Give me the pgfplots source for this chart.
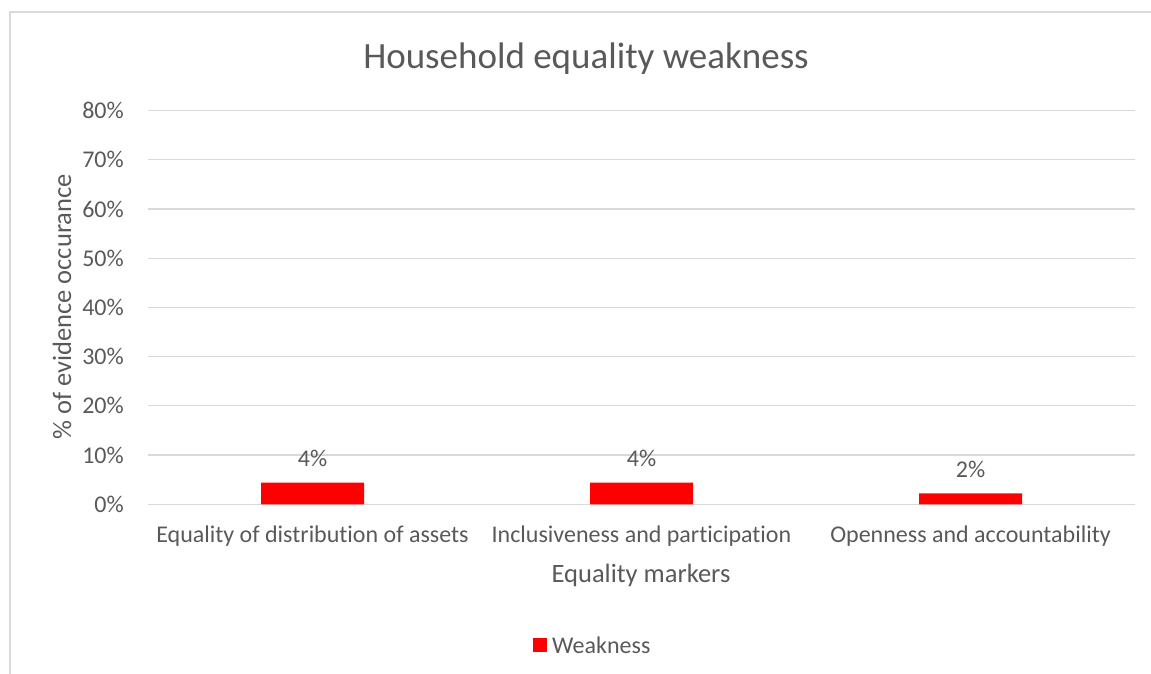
\documentclass[border=0pt]{standalone}
\usepackage{pgfplots}
\pgfplotsset{compat=1.18}
\usepackage{fontspec}
\setmainfont{Carlito}[Ligatures={NoCommon,NoContextual}]
\definecolor{txt}{HTML}{595959}
\definecolor{gridc}{HTML}{D9D9D9}
\definecolor{barred}{HTML}{FF0000}
\begin{document}
\begin{tikzpicture}[x=1bp,y=1bp]
\path[use as bounding box] (0,0) rectangle (1151,674);
\draw[gridc, line width=1.2bp] (10,0) -- (10,662) -- (1151,662);
\begin{axis}[
  at={(148bp,169.7bp)}, anchor=south west,
  scale only axis, width=987bp, height=393.6bp,
  xmin=-0.5, xmax=2.5, ymin=0, ymax=80,
  ytick={0,10,...,80},
  yticklabel={\pgfmathprintnumber{\tick}\%},
  xtick={0,1,2},
  xticklabels={Equality of distribution of assets, Inclusiveness and participation, Openness and accountability},
  axis line style={draw=none},
  major tick length=0pt,
  ymajorgrids, grid style={gridc, line width=1.2bp},
  ticklabel style={font=\fontsize{24bp}{28bp}\selectfont, text=txt, inner sep=0pt},
  yticklabel style={anchor=east, xshift=-24bp},
  xticklabel style={anchor=center, yshift=-32bp},
  /pgf/number format/assume math mode=true,
  ybar, bar width=103bp,
  nodes near coords={\pgfmathprintnumber[fixed,precision=0]{\pgfplotspointmeta}\%},
  nodes near coords style={anchor=center, yshift=24.5bp, font=\fontsize{24bp}{28bp}\selectfont, text=txt, inner sep=0pt},
  clip=false,
]
\addplot[fill=barred, draw=none] coordinates {(0,4.4) (1,4.4) (2,2.2)};
\end{axis}
\node[text=txt, font=\fontsize{37bp}{44bp}\selectfont] at (586,615) {Household equality weakness};
\node[text=txt, font=\fontsize{26.5bp}{32bp}\selectfont] at (641,99) {Equality markers};
\node[text=txt, font=\fontsize{26.5bp}{32bp}\selectfont, rotate=90] at (62,367) {\% of evidence occurance};
\fill[barred] (533,22) rectangle (547,36);
\node[text=txt, font=\fontsize{24bp}{28bp}\selectfont, anchor=west, inner sep=0pt] at (552,29) {Weakness};
\end{tikzpicture}
\end{document}
